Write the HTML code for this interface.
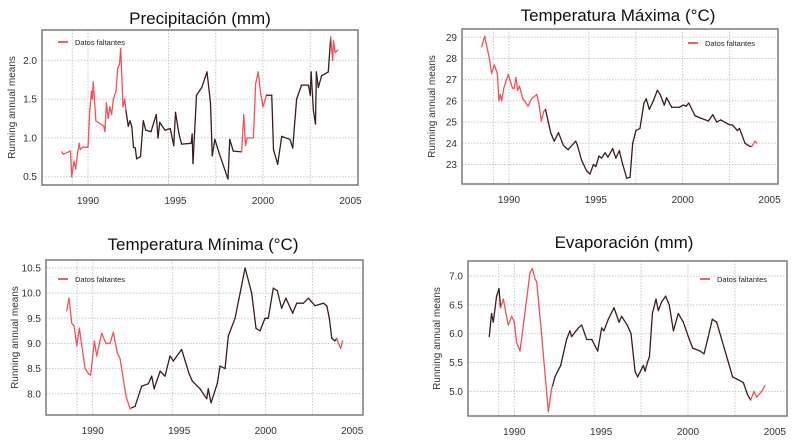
<!DOCTYPE html>
<html><head><meta charset="utf-8"><style>
body{margin:0;background:#fff;width:799px;height:443px;overflow:hidden;font-family:"Liberation Sans",sans-serif}
svg text{font-family:"Liberation Sans",sans-serif}
</style></head><body>
<svg id="c" width="799" height="443"></svg>
<script>
const xTicks=[1990,1995,2000,2005];
const xGrid=[1989.1,1990,1994.6,1997.3,2000,2002.7];
const titles=["Precipitación (mm)","Temperatura Máxima (°C)","Temperatura Mínima (°C)","Evaporación (mm)"];
const yTicks1=[0.5,1.0,1.5,2.0];
const yTicks2=[23,24,25,26,27,28,29];
const yTicks3=[8.0,8.5,9.0,9.5,10.0,10.5];
const yTicks4=[5.0,5.5,6.0,6.5,7.0];
// series: [year, value, missing(1=red)]
const precip=[[1988.5,0.82,1],[1988.6,0.79,1],[1989.0,0.83,1],[1989.07,0.5,1],[1989.2,0.7,1],[1989.3,0.6,1],[1989.4,0.8,1],[1989.5,0.93,1],[1989.55,0.85,1],[1989.7,0.88,1],[1990.0,0.88,1],[1990.1,1.35,1],[1990.2,1.6,1],[1990.25,1.5,1],[1990.3,1.72,1],[1990.45,1.22,1],[1990.9,1.15,1],[1990.97,1.08,1],[1991.05,1.45,1],[1991.15,1.25,1],[1991.25,1.4,1],[1991.35,1.3,1],[1991.45,1.5,1],[1991.6,1.6,1],[1991.7,1.9,1],[1991.8,1.95,1],[1991.87,2.15,1],[1992.0,1.4,1],[1992.1,1.5,1],[1992.17,1.35,0],[1992.3,1.15,0],[1992.4,1.22,0],[1992.5,1.15,0],[1992.6,0.88,0],[1992.7,0.87,0],[1992.78,0.73,0],[1993.0,0.76,0],[1993.1,1.05,0],[1993.16,1.22,0],[1993.3,1.1,0],[1993.6,1.08,0],[1993.9,1.3,0],[1994.0,1.0,0],[1994.1,1.2,0],[1994.4,1.1,0],[1994.7,1.12,0],[1994.9,0.9,0],[1995.0,1.33,0],[1995.2,1.05,0],[1995.35,0.92,0],[1995.9,0.93,0],[1995.95,1.05,0],[1996.0,0.67,0],[1996.2,1.55,0],[1996.5,1.65,0],[1996.8,1.85,0],[1997.0,1.45,0],[1997.1,0.77,0],[1997.25,0.98,0],[1997.5,0.8,0],[1998.0,0.47,0],[1998.1,0.98,0],[1998.3,0.83,0],[1998.78,0.82,1],[1998.9,1.3,1],[1999.0,0.9,1],[1999.1,1.0,1],[1999.45,1.0,1],[1999.58,1.7,1],[1999.73,1.85,1],[1999.85,1.6,1],[2000.0,1.4,1],[2000.2,1.55,0],[2000.5,1.55,0],[2000.6,0.85,0],[2000.84,0.66,0],[2001.07,1.02,0],[2001.54,0.98,0],[2001.7,0.87,0],[2001.92,1.5,0],[2002.2,1.68,0],[2002.6,1.68,0],[2002.7,1.55,0],[2002.75,1.85,0],[2002.88,1.35,0],[2003.0,1.18,0],[2003.05,1.85,0],[2003.16,1.65,0],[2003.35,1.8,0],[2003.73,1.85,0],[2003.87,2.3,1],[2003.98,2.0,1],[2004.03,2.25,1],[2004.12,2.1,1],[2004.27,2.13,1]];
const tmax=[[1988.43,28.55,1],[1988.6,29.05,1],[1988.87,28.0,1],[1989.0,27.3,1],[1989.15,27.7,1],[1989.33,27.3,1],[1989.42,26.0,1],[1989.5,26.3,1],[1989.58,26.0,1],[1989.7,26.6,1],[1989.96,27.25,1],[1990.2,26.6,1],[1990.3,26.6,1],[1990.4,27.1,1],[1990.5,26.5,1],[1990.6,26.7,1],[1990.8,26.1,1],[1991.1,25.75,1],[1991.3,26.1,1],[1991.6,26.3,1],[1991.72,25.9,1],[1991.86,25.05,1],[1992.0,25.5,1],[1992.1,25.6,0],[1992.4,24.5,0],[1992.6,24.1,0],[1992.85,24.5,0],[1993.13,23.9,0],[1993.4,23.7,0],[1993.84,24.1,0],[1993.94,23.9,0],[1994.18,23.2,0],[1994.47,22.7,0],[1994.66,22.55,0],[1994.86,23.0,0],[1995.0,22.9,0],[1995.18,23.4,0],[1995.33,23.3,0],[1995.53,23.55,0],[1995.7,23.35,0],[1995.97,23.75,0],[1996.15,23.3,0],[1996.35,23.65,0],[1996.55,23.0,0],[1996.78,22.35,0],[1996.97,22.4,0],[1997.12,24.0,0],[1997.31,24.6,0],[1997.54,24.7,0],[1997.77,25.9,0],[1997.9,26.1,0],[1998.08,25.6,0],[1998.31,26.0,0],[1998.54,26.5,0],[1998.7,26.3,0],[1998.94,25.8,0],[1999.07,26.15,0],[1999.37,25.7,0],[1999.8,25.7,0],[2000.04,25.8,0],[2000.2,25.75,0],[2000.35,25.9,0],[2000.71,25.3,0],[2001.0,25.2,0],[2001.48,25.05,0],[2001.73,25.35,0],[2001.96,25.0,0],[2002.19,25.1,0],[2002.63,24.9,0],[2002.88,24.85,0],[2003.15,24.6,0],[2003.27,24.7,0],[2003.59,24.0,0],[2003.88,23.85,0],[2003.97,23.85,1],[2004.17,24.1,1],[2004.26,24.0,1]];
const tmin=[[1988.5,9.65,1],[1988.63,9.9,1],[1988.79,9.4,1],[1988.92,9.35,1],[1989.08,8.95,1],[1989.23,9.3,1],[1989.37,8.95,1],[1989.56,8.5,1],[1989.75,8.4,1],[1989.88,8.37,1],[1990.1,9.05,1],[1990.23,8.75,1],[1990.52,9.2,1],[1990.77,9.0,1],[1991.0,9.0,1],[1991.19,9.22,1],[1991.43,8.8,1],[1991.58,8.7,1],[1991.93,7.95,1],[1992.16,7.7,1],[1992.25,7.72,0],[1992.45,7.75,0],[1992.83,8.15,0],[1993.22,8.2,0],[1993.41,8.35,0],[1993.55,8.1,0],[1993.9,8.45,0],[1994.18,8.35,0],[1994.47,8.75,0],[1994.66,8.65,0],[1995.14,8.88,0],[1995.57,8.4,0],[1995.76,8.25,0],[1996.2,8.1,0],[1996.59,7.9,0],[1996.68,8.1,0],[1996.84,7.82,0],[1997.2,8.2,0],[1997.36,8.55,0],[1997.65,8.5,0],[1997.84,9.15,0],[1998.23,9.5,0],[1998.52,10.0,0],[1998.81,10.5,0],[1999.19,10.0,0],[1999.44,9.3,0],[1999.67,9.25,0],[1999.96,9.5,0],[2000.15,9.5,0],[2000.44,10.1,0],[2000.67,10.05,0],[2000.92,9.7,0],[2001.17,9.9,0],[2001.56,9.6,0],[2001.79,9.8,0],[2002.18,9.8,0],[2002.47,9.9,0],[2002.85,9.75,0],[2003.33,9.8,0],[2003.53,9.75,0],[2003.68,9.5,0],[2003.82,9.1,0],[2004.0,9.05,0],[2004.1,9.1,1],[2004.33,8.9,1],[2004.45,9.05,1]];
const evap=[[1988.56,5.95,0],[1988.69,6.35,0],[1988.79,6.2,0],[1988.98,6.65,0],[1989.12,6.78,0],[1989.21,6.45,1],[1989.37,6.6,1],[1989.65,6.15,1],[1989.85,6.3,1],[1990.0,6.2,1],[1990.13,5.85,1],[1990.33,5.7,1],[1990.67,6.5,1],[1990.9,7.05,1],[1991.04,7.13,1],[1991.19,6.95,1],[1991.29,6.9,1],[1991.57,6.0,1],[1991.71,5.5,1],[1991.96,4.65,1],[1992.15,5.05,1],[1992.21,5.1,0],[1992.34,5.25,0],[1992.67,5.45,0],[1993.01,5.9,0],[1993.2,6.05,0],[1993.3,5.95,0],[1993.69,6.1,0],[1993.88,6.15,0],[1994.17,5.9,0],[1994.46,5.9,0],[1994.8,5.7,0],[1995.03,6.1,0],[1995.16,6.05,0],[1995.41,6.25,0],[1995.74,6.45,0],[1996.03,6.2,0],[1996.18,6.3,0],[1996.5,6.15,0],[1996.72,6.0,0],[1996.95,5.35,0],[1997.1,5.25,0],[1997.43,5.45,0],[1997.53,5.35,0],[1997.66,5.5,0],[1997.78,5.6,0],[1997.95,6.35,0],[1998.16,6.6,0],[1998.29,6.4,0],[1998.48,6.55,0],[1998.71,6.65,0],[1998.92,6.5,0],[1999.16,6.05,0],[1999.44,6.35,0],[1999.73,6.2,0],[2000.02,5.95,0],[2000.27,5.75,0],[2000.69,5.7,0],[2000.92,5.65,0],[2001.17,5.95,0],[2001.4,6.25,0],[2001.65,6.2,0],[2001.94,5.9,0],[2002.28,5.55,0],[2002.57,5.25,0],[2002.9,5.2,0],[2003.19,5.15,0],[2003.42,4.95,0],[2003.61,4.85,1],[2003.8,5.0,1],[2003.95,4.9,1],[2004.24,5.0,1],[2004.43,5.1,1]];

const NS="http://www.w3.org/2000/svg";
const svg=document.getElementById('c');
function mk(t,a,p){const e=document.createElementNS(NS,t);for(const k in a)e.setAttribute(k,a[k]);(p||svg).appendChild(e);return e;}
// layout: box, x calibration (year1990 px, px/yr), y calibration (ref value, px, px/unit)
const panels=[
 {name:'precipitation',box:[42,30,358,185],x0:88,xs:17.5,yv:2.0,yp:60.3,ys:77.6,ticks:yTicks1,dec:1,data:precip,title:[200,18],ylab:7,leg:[58,42]},
 {name:'max-temperature',box:[462,29,778,184],x0:509,xs:17.37,yv:29,yp:37.3,ys:21.2,ticks:yTicks2,dec:0,data:tmax,title:[618,15],ylab:427,leg:[688,43]},
 {name:'min-temperature',box:[46,260,363,415],x0:92.7,xs:17.3,yv:10.5,yp:268,ys:50.3,ticks:yTicks3,dec:1,data:tmin,title:[203,244],ylab:10,leg:[58,279]},
 {name:'evaporation',box:[468,261,787,416],x0:514.3,xs:17.37,yv:7.0,yp:276,ys:57.7,ticks:yTicks4,dec:1,data:evap,title:[624,242],ylab:432,leg:[700,279]}
];
panels.forEach((p,i)=>{
 const g=mk('g',{});
 
 
 const X=y=>p.x0+(y-1990)*p.xs, Y=v=>p.yp-(v-p.yv)*p.ys;
 const [l,t,r,b]=p.box;
 const tt=mk('text',{x:p.title[0],y:p.title[1]+6,'text-anchor':'middle','font-size':'17',fill:'#111'},g);
 tt.textContent=titles[i];
 
 
 xGrid.forEach(yr=>{const ln=mk('line',{x1:X(yr),x2:X(yr),y1:t,y2:b,stroke:'#c8c8c8','stroke-dasharray':'1.5,1.5','stroke-width':1},g);
  });
 p.ticks.forEach(v=>{const ln=mk('line',{x1:l,x2:r,y1:Y(v),y2:Y(v),stroke:'#c8c8c8','stroke-dasharray':'1.5,1.5','stroke-width':1},g);
  
  const tx=mk('text',{x:l-5,y:Y(v)+3.5,'text-anchor':'end','font-size':'10',fill:'#333'},g);
  tx.textContent=v.toFixed(p.dec);
  });
 xTicks.forEach(yr=>{const tx=mk('text',{x:X(yr),y:b+19,'text-anchor':'middle','font-size':'10',fill:'#333'},g);
  tx.textContent=yr;
  });
 const yl=mk('text',{x:0,y:0,transform:`translate(${p.ylab+8},${(t+b)/2}) rotate(-90)`,'text-anchor':'middle','font-size':'10',fill:'#333'},g);
 yl.textContent='Running annual means';
 
 // line segments
 for(let k=0;k<p.data.length-1;k++){
  const a=p.data[k],c=p.data[k+1];
  const s=mk('line',{x1:X(a[0]),y1:Y(a[1]),x2:X(c[0]),y2:Y(c[1]),stroke:a[2]?'#f0525a':'#3a1c1c','stroke-width':1.3,'stroke-linecap':'round'},g);
  
  
 }
 const bx=mk('rect',{x:l,y:t,width:r-l,height:b-t,fill:'none',stroke:'#7a7a7a','stroke-width':1.5},g);
 
 const lg=mk('g',{},g);
 
 mk('line',{x1:p.leg[0],x2:p.leg[0]+10,y1:p.leg[1],y2:p.leg[1],stroke:'#e0303a','stroke-width':1.5},lg);
 const lt=mk('text',{x:p.leg[0]+17,y:p.leg[1]+3,'font-size':'7.5',fill:'#222'},lg);
 lt.textContent='Datos faltantes';
});
</script>
</body></html>
